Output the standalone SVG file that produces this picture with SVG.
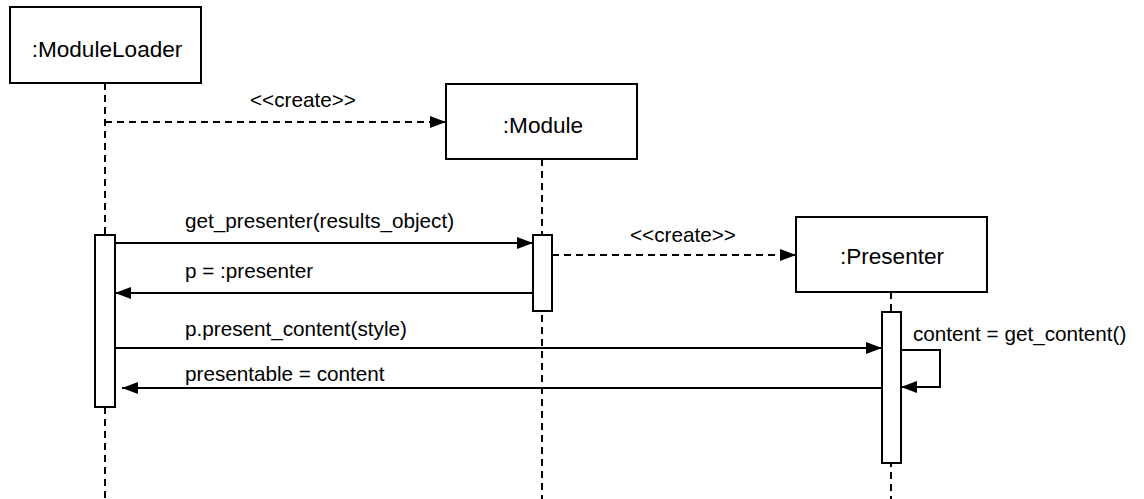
<svg xmlns="http://www.w3.org/2000/svg" width="1144" height="499" viewBox="0 0 1144 499">
<style>
.box{fill:#fff;stroke:#000;stroke-width:2}
.title{font-family:"Liberation Sans",Arial,sans-serif;font-size:22.6px;fill:#000;text-anchor:middle}
.lbl{font-family:"Liberation Sans",Arial,sans-serif;font-size:20.7px;fill:#000}
.life{stroke:#000;stroke-width:2;stroke-dasharray:7,5;fill:none}
.msg{stroke:#000;stroke-width:2;fill:none}
.dmsg{stroke:#000;stroke-width:2;fill:none;stroke-dasharray:7,5}
.act{fill:#fff;stroke:#000;stroke-width:2}
</style>
<defs>
<marker id="ah" viewBox="0 0 16 12" refX="16" refY="6" markerWidth="16" markerHeight="12" markerUnits="userSpaceOnUse" orient="auto">
<path d="M0,0 L16,6 L0,12 z" fill="#000"/>
</marker>
</defs>
<rect width="1144" height="499" fill="#fff"/>
<g id="lifelines">
<line class="life" x1="105" y1="83" x2="105" y2="499"/>
<line class="life" x1="542" y1="159" x2="542" y2="499"/>
<line class="life" x1="891" y1="292" x2="891" y2="499"/>
</g>
<g id="ModuleLoader">
<rect class="box" x="10" y="7" width="191" height="76"/>
<text class="title" x="107" y="57">:ModuleLoader</text>
</g>
<g id="Module">
<rect class="box" x="446" y="84" width="191" height="75"/>
<text class="title" x="543" y="133">:Module</text>
</g>
<g id="Presenter">
<rect class="box" x="796" y="217" width="191" height="75"/>
<text class="title" x="892" y="264">:Presenter</text>
</g>
<g id="activations">
<rect class="act" x="95" y="235" width="20" height="172"/>
<rect class="act" x="533" y="235" width="19" height="76"/>
<rect class="act" x="882" y="312" width="19" height="151"/>
</g>
<g id="connectors">
<line class="dmsg" x1="105" y1="122" x2="446" y2="122" marker-end="url(#ah)"/>
<text class="lbl" x="250" y="107">&lt;&lt;create&gt;&gt;</text>
<line class="msg" x1="115" y1="243" x2="533" y2="243" marker-end="url(#ah)"/>
<text class="lbl" x="185" y="228">get_presenter(results_object)</text>
<line class="dmsg" x1="552" y1="255" x2="796" y2="255" marker-end="url(#ah)"/>
<text class="lbl" x="630" y="242">&lt;&lt;create&gt;&gt;</text>
<line class="msg" x1="533" y1="293" x2="115" y2="293" marker-end="url(#ah)"/>
<text class="lbl" x="185" y="278">p = :presenter</text>
<line class="msg" x1="115" y1="348" x2="882" y2="348" marker-end="url(#ah)"/>
<text class="lbl" x="185" y="336">p.present_content(style)</text>
<line class="msg" x1="882" y1="388" x2="122" y2="388" marker-end="url(#ah)"/>
<text class="lbl" x="185" y="381">presentable = content</text>
<polyline class="msg" points="901,350 940,350 940,387 901,387" marker-end="url(#ah)"/>
<text class="lbl" x="913" y="341">content = get_content()</text>
</g>
</svg>
